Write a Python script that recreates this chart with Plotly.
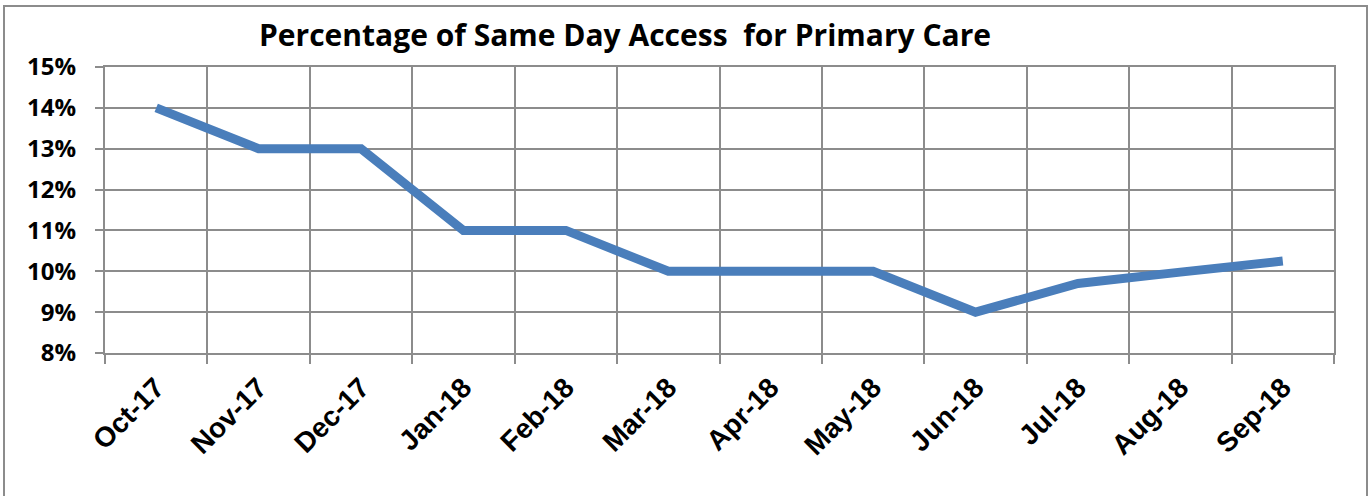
import plotly.graph_objects as go

months = ["Oct-17", "Nov-17", "Dec-17", "Jan-18", "Feb-18", "Mar-18",
          "Apr-18", "May-18", "Jun-18", "Jul-18", "Aug-18", "Sep-18"]
same_day_pct = [0.14, 0.13, 0.13, 0.11, 0.11, 0.10,
                0.10, 0.10, 0.09, 0.097, 0.0998, 0.1025]
y_ticks = [0.08, 0.09, 0.10, 0.11, 0.12, 0.13, 0.14, 0.15]
y_labels = ["8%", "9%", "10%", "11%", "12%", "13%", "14%", "15%"]

W, H = 1369, 496
L, R, T, B = 105, 35, 67, 143
pw, ph = W - L - R, H - T - B

fig = go.Figure(go.Scatter(
    x=months, y=same_day_pct, mode="lines",
    line=dict(color="#4A7EBB", width=9),
    hoverinfo="skip"))

fig.update_layout(
    width=W, height=H,
    margin=dict(l=L, r=R, t=T, b=B, autoexpand=False),
    paper_bgcolor="white", plot_bgcolor="white",
    showlegend=False,
    title=dict(text="<b>Percentage of Same Day Access  for Primary Care</b>",
               x=625 / W, xanchor="center", xref="container",
               y=1 - 35 / H, yanchor="middle", yref="container",
               font=dict(family="Open Sans", size=30, color="black")),
)

fig.update_xaxes(
    type="category", tickson="boundaries", range=[-0.5, 11.5],
    automargin=False,
    showgrid=True, gridcolor="#8c8c8c", gridwidth=2,
    showline=True, linecolor="#8c8c8c", linewidth=2, mirror=True,
    ticks="outside", ticklen=9, tickwidth=2, tickcolor="#8c8c8c",
    tickangle=-45, ticklabelstandoff=5,
    tickfont=dict(family="Liberation Sans", size=28, color="black", weight="bold"),
)
fig.update_yaxes(
    range=[0.08, 0.15], tickvals=y_ticks, ticktext=y_labels,
    automargin=False,
    showgrid=True, gridcolor="#8c8c8c", gridwidth=2, zeroline=False,
    showline=True, linecolor="#8c8c8c", linewidth=2, mirror=True,
    ticks="outside", ticklen=8, tickwidth=2, tickcolor="#8c8c8c",
    ticklabelstandoff=14,
    tickfont=dict(family="Open Sans", size=24, color="black", weight="bold"),
)

fig.add_shape(type="rect", xref="paper", yref="paper",
              x0=(4 - L) / pw, x1=(1367 - L) / pw,
              y0=-(H + 5 - T - ph) / ph, y1=(ph + T - 6) / ph,
              line=dict(color="#8c8c8c", width=2), fillcolor="rgba(0,0,0,0)",
              layer="below")

fig.write_html("out.html",
               config={"displayModeBar": False, "staticPlot": True},
               post_script="document.body.style.margin='0';"
                           "document.body.style.overflow='hidden';")
